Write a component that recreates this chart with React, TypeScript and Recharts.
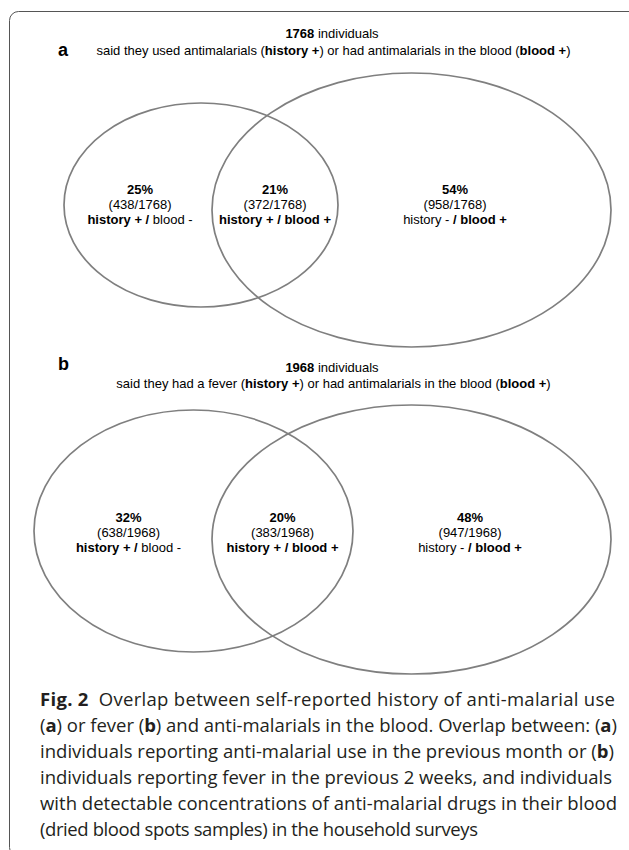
import { ScatterChart, Scatter, XAxis, YAxis } from 'recharts';

const W = 629;
const H = 850;

// values
const panelIds = ['a', 'b'];
const totals = [1768, 1968];
const historyMeaning = ['said they used antimalarials', 'said they had a fever'];
const historyPositive = [true, true, false];
const bloodPositive = [false, true, true];
const pctA = [25, 21, 54];
const countA = [438, 372, 958];
const pctB = [32, 20, 48];
const countB = [638, 383, 947];

const pcts = [pctA, pctB];
const counts = [countA, countB];

// layout of the two sets in each panel (history set, blood set), page pixels
const setLayout = [
  { x: 201, y: 205, rx: 137, ry: 102 },
  { x: 411.5, y: 210, rx: 199.5, ry: 137 },
  { x: 193.5, y: 531, rx: 159.5, ry: 121 },
  { x: 411.5, y: 539.5, rx: 199.5, ry: 134.5 },
];
const labelLayout = [
  [{ x: 140, y: 193.5 }, { x: 275, y: 193.5 }, { x: 455, y: 193.5 }],
  [{ x: 128.5, y: 521.5 }, { x: 282.5, y: 521.5 }, { x: 470, y: 521.5 }],
];
const titleY = [37.5, 372];
const titleGap = [17, 16];
const panelLetterY = [56, 370];

const CHART_FONT = 'Liberation Sans, Arial, sans-serif';
const STROKE = '#7f7f7f';

const setData = setLayout.map((s) => ({ ...s }));
const regionData = panelIds.flatMap((_, p) =>
  pcts[p].map((pct, i) => ({
    x: labelLayout[p][i].x,
    y: labelLayout[p][i].y,
    pct,
    count: counts[p][i],
    total: totals[p],
    hist: historyPositive[i],
    blood: bloodPositive[i],
  }))
);

// one data unit is one pixel since domain == plot size
const SX = W / W;
const SY = H / H;

const EllipseShape = (props: any) => {
  const { cx, cy, payload } = props;
  return (
    <ellipse
      cx={cx}
      cy={cy}
      rx={payload.rx * SX}
      ry={payload.ry * SY}
      fill="none"
      stroke={STROKE}
      strokeWidth={1.7}
    />
  );
};

const RegionLabel = (props: any) => {
  const { cx, cy, payload } = props;
  const d = payload;
  return (
    <text x={cx} y={cy} textAnchor="middle" fontFamily={CHART_FONT} fontSize={13} fill="#000">
      <tspan x={cx} fontWeight="bold">{d.pct}%</tspan>
      <tspan x={cx} dy={15.5}>({d.count}/{d.total})</tspan>
      <tspan x={cx} dy={15}>
        <tspan fontWeight={d.hist ? 'bold' : 'normal'}>history {d.hist ? '+' : '-'} </tspan>
        <tspan fontWeight="bold">/ </tspan>
        <tspan fontWeight={d.blood ? 'bold' : 'normal'}>blood {d.blood ? '+' : '-'}</tspan>
      </tspan>
    </text>
  );
};

const captionLines: { t: string; b?: boolean }[][] = [
  [{ t: 'Fig. 2', b: true }, { t: '  Overlap between self-reported history of anti-malarial use' }],
  [
    { t: '(' }, { t: 'a', b: true }, { t: ') or fever (' }, { t: 'b', b: true },
    { t: ') and anti-malarials in the blood. Overlap between: (' }, { t: 'a', b: true }, { t: ')' },
  ],
  [{ t: 'individuals reporting anti-malarial use in the previous month or (' }, { t: 'b', b: true }, { t: ')' }],
  [{ t: 'individuals reporting fever in the previous 2 weeks, and individuals' }],
  [{ t: 'with detectable concentrations of anti-malarial drugs in their blood' }],
  [{ t: '(dried blood spots samples) in the household surveys' }],
];
const captionWidths = [575, 577, 574, 572, 577, 438];

export default function App() {
  return (
    <div style={{ position: 'absolute', left: 0, top: 0, width: W, height: H, background: '#fff' }}>
      <ScatterChart width={W} height={H} margin={{ top: 0, right: 0, bottom: 0, left: 0 }}>
        <XAxis type="number" dataKey="x" domain={[0, W]} hide />
        <YAxis type="number" dataKey="y" domain={[0, H]} reversed hide />
        <Scatter data={setData} shape={EllipseShape} isAnimationActive={false} />
        <Scatter data={regionData} shape={RegionLabel} isAnimationActive={false} />
      </ScatterChart>
      <svg
        width={W}
        height={H}
        style={{ position: 'absolute', left: 0, top: 0, pointerEvents: 'none' }}
      >
        <rect x={9.5} y={11.5} width={660} height={845} rx={9} fill="none" stroke="#555" strokeWidth={1} />
        {panelIds.map((id, p) => (
          <g key={id} fontFamily={CHART_FONT} fill="#000">
            <text x={58} y={panelLetterY[p]} fontSize={18} fontWeight="bold">
              {id}
            </text>
            <text x={332} y={titleY[p]} textAnchor="middle" fontSize={13}>
              <tspan fontWeight="bold">{totals[p]}</tspan> individuals
            </text>
            <text x={333.5} y={titleY[p] + titleGap[p]} textAnchor="middle" fontSize={13}>
              {historyMeaning[p]} (<tspan fontWeight="bold">history +</tspan>) or had antimalarials in the
              blood (<tspan fontWeight="bold">blood +</tspan>)
            </text>
          </g>
        ))}
        {captionLines.map((line, i) => (
          <text
            key={i}
            x={40}
            y={706 + i * 26}
            fontFamily="Open Sans, sans-serif"
            fontSize={18.5}
            fill="#231f20"
            xmlSpace="preserve"
            textLength={captionWidths[i]}
            lengthAdjust="spacing"
          >
            {line.map((s, j) => (
              <tspan key={j} fontWeight={s.b ? 'bold' : 'normal'}>
                {s.t}
              </tspan>
            ))}
          </text>
        ))}
      </svg>
    </div>
  );
}
